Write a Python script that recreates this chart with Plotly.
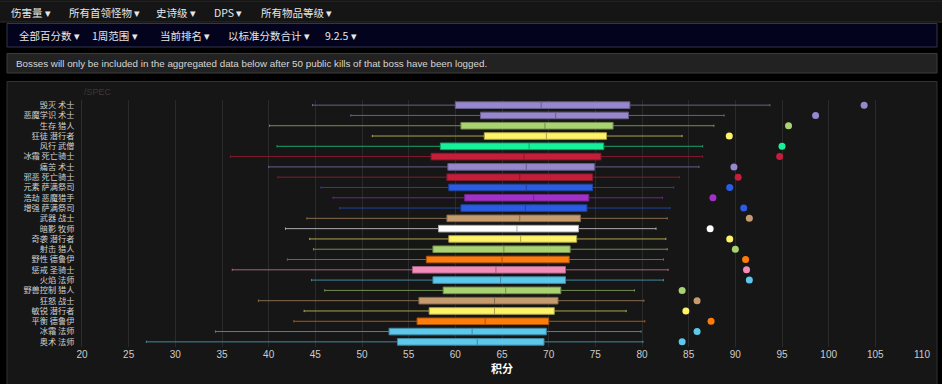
import plotly.graph_objects as go

# ---------------- data ----------------
specs = ["毁灭 术士", "恶魔学识 术士", "生存 猎人", "狂徒 潜行者", "风行 武僧", "冰霜 死亡骑士",
         "痛苦 术士", "邪恶 死亡骑士", "元素 萨满祭司", "浩劫 恶魔猎手", "增强 萨满祭司", "武器 战士",
         "暗影 牧师", "奇袭 潜行者", "射击 猎人", "野性 德鲁伊", "惩戒 圣骑士", "火焰 法师",
         "野兽控制 猎人", "狂怒 战士", "敏锐 潜行者", "平衡 德鲁伊", "冰霜 法师", "奥术 法师"]
lower = [44.7, 48.8, 40.1, 51.1, 40.9, 35.9, 40.0, 41.0, 45.6, 46.9, 47.6, 44.1,
         41.8, 44.4, 44.8, 42.0, 36.1, 44.6, 46.0, 38.9, 43.8, 42.7, 34.3, 26.9]
q1 = [60.0, 62.7, 60.6, 63.1, 58.4, 57.4, 59.2, 59.1, 59.3, 61.0, 60.6, 59.1,
      58.2, 59.3, 57.6, 56.9, 55.4, 57.6, 58.7, 56.1, 57.2, 55.9, 52.9, 53.8]
median = [69.2, 70.75, 69.6, 69.75, 67.9, 67.35, 67.6, 66.9, 67.6, 68.4, 67.5, 66.9,
          66.6, 67.0, 65.2, 65.0, 64.35, 64.85, 65.4, 64.2, 64.2, 63.2, 61.8, 62.35]
q3 = [78.7, 78.55, 76.9, 76.2, 75.9, 75.6, 74.9, 74.7, 74.7, 74.3, 74.1, 73.4,
      73.2, 73.0, 72.3, 72.2, 71.8, 71.8, 71.3, 71.0, 70.6, 70.0, 69.75, 69.5]
upper = [93.7, 88.8, 87.7, 84.3, 86.5, 86.5, 86.1, 84.0, 83.4, 82.2, 83.0, 82.7,
         81.5, 82.55, 82.7, 82.3, 82.8, 82.3, 79.2, 80.2, 78.3, 80.3, 79.9, 80.1]
top_score = [103.8, 98.6, 95.7, 89.35, 95.0, 94.75, 89.85, 90.3, 89.4, 87.6, 90.9, 91.5,
             87.3, 89.4, 90.0, 91.1, 91.2, 91.5, 84.3, 85.9, 84.7, 87.4, 85.9, 84.3]

class_colors = {
    "术士": "#9787cd", "猎人": "#a9d271", "潜行者": "#fff468", "武僧": "#17f29a",
    "死亡骑士": "#c41e3a", "萨满祭司": "#2a5ce6", "恶魔猎手": "#a330c9", "战士": "#c69b6d",
    "牧师": "#ffffff", "德鲁伊": "#ff7c0a", "圣骑士": "#f48cba", "法师": "#5cc8ec",
}

menu1 = ["伤害量", "所有首领怪物", "史诗级", "DPS", "所有物品等级"]
menu2 = ["全部百分数", "1周范围", "当前排名", "以标准分数合计", "9.2.5"]
notice = "Bosses will only be included in the aggregated data below after 50 public kills of that boss have been logged."
x_ticks = list(range(20, 111, 5))

# ---------------- helpers ----------------
W, H = 942, 384
L, R, T, B = 82, 20, 100, 37
PW, PH = W - L - R, H - T - B


def px(x):
    return (x - L) / PW


def py(y):
    return (H - B - y) / PH


def dim(hexc, f=0.65, bg=(21, 21, 21)):
    h = hexc.lstrip("#")
    r, g, b = int(h[0:2], 16), int(h[2:4], 16), int(h[4:6], 16)
    r = int(r * f + bg[0] * (1 - f))
    g = int(g * f + bg[1] * (1 - f))
    b = int(b * f + bg[2] * (1 - f))
    return f"rgb({r},{g},{b})"


CJK = "Noto Sans CJK SC, Liberation Sans, sans-serif"

fig = go.Figure()

for i, s in enumerate(specs):
    c = class_colors[s.split(" ")[1]]
    fig.add_trace(go.Box(
        y=[s], q1=[q1[i]], median=[median[i]], q3=[q3[i]],
        lowerfence=[lower[i]], upperfence=[upper[i]],
        orientation="h", fillcolor=c, line=dict(color=dim(c), width=1),
        width=0.64, whiskerwidth=0.35, boxpoints=False, showlegend=False,
        hoverinfo="skip",
    ))
    fig.add_trace(go.Scatter(
        x=[top_score[i]], y=[s], mode="markers",
        marker=dict(color=c, size=7, line=dict(width=0)), showlegend=False,
        hoverinfo="skip",
    ))

shapes = [
    dict(type="rect", xref="paper", yref="paper", x0=px(-2), x1=px(944), y0=py(22), y1=py(1),
         fillcolor="#151515", line=dict(color="#2e2e2e", width=1), layer="below"),
    dict(type="rect", xref="paper", yref="paper", x0=px(7), x1=px(937), y0=py(47), y1=py(23.5),
         fillcolor="#03031d", line=dict(color="#34344a", width=1), layer="below"),
    dict(type="rect", xref="paper", yref="paper", x0=px(7), x1=px(937), y0=py(73), y1=py(53.5),
         fillcolor="#222222", line=dict(color="#3c3c3c", width=1), layer="below"),
    dict(type="rect", xref="paper", yref="paper", x0=px(7), x1=px(937), y0=py(390), y1=py(81.5),
         fillcolor="#161616", line=dict(color="#333333", width=1), layer="below"),
]

annotations = []
m1x = [9, 67, 154, 212, 259]
for t, x in zip(menu1, m1x):
    annotations.append(dict(text=t + " ▾", x=px(x), y=py(13), xref="paper", yref="paper",
                            xanchor="left", yanchor="middle", showarrow=False,
                            font=dict(family=CJK, size=10.5, color="#e6e6e6")))
m2x = [17, 90, 158, 226, 323]
for t, x in zip(menu2, m2x):
    annotations.append(dict(text=t + " ▾", x=px(x), y=py(35), xref="paper", yref="paper",
                            xanchor="left", yanchor="middle", showarrow=False,
                            font=dict(family=CJK, size=10.5, color="#e6e6e6")))
annotations.append(dict(text=notice, x=px(14), y=py(63.5), xref="paper", yref="paper",
                        xanchor="left", yanchor="middle", showarrow=False,
                        font=dict(family="Liberation Sans, Arial, sans-serif", size=9.8, color="#d6d6d6")))
annotations.append(dict(text="/SPEC", x=px(82), y=py(92), xref="paper", yref="paper",
                        xanchor="left", yanchor="middle", showarrow=False,
                        font=dict(family="Liberation Sans, Arial, sans-serif", size=9, color="#3a3a3a")))

fig.update_layout(
    width=W, height=H,
    margin=dict(l=L, r=R, t=T, b=B, pad=0),
    paper_bgcolor="#000000", plot_bgcolor="rgba(0,0,0,0)",
    shapes=shapes, annotations=annotations,
    boxmode="overlay",
    xaxis=dict(range=[20, 110], tickvals=x_ticks, ticktext=[str(v) for v in x_ticks],
               showgrid=True, gridcolor="#2a2a2a", gridwidth=1, zeroline=False,
               showline=False, ticks="",
               tickfont=dict(family="Liberation Sans, Arial, sans-serif", size=10, color="#cccccc"),
               title=dict(text="<b>积分</b>", standoff=6,
                          font=dict(family=CJK, size=11, color="#ffffff")),
               automargin=False, fixedrange=True),
    yaxis=dict(type="category", categoryorder="array", categoryarray=specs,
               tickmode="array", tickvals=specs, ticktext=specs,
               range=[len(specs) - 0.5, -0.5], showgrid=False, zeroline=False,
               showline=True, linecolor="#2e2e2e", ticks="", ticklabelstandoff=5,
               tickfont=dict(family=CJK, size=8.2, color="#d0d0d0"),
               automargin=False, fixedrange=True),
    font=dict(family=CJK, color="#cccccc"),
)

fig.write_html(
    "out.html",
    config={"displayModeBar": False},
    post_script="document.body.style.margin='0';document.body.style.background='#000';",
)
